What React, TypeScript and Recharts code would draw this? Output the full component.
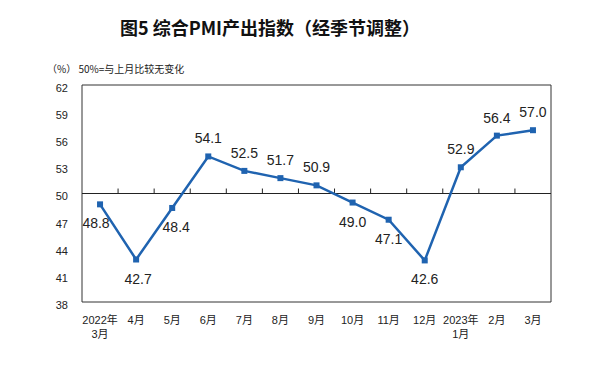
import React from "react";
import {
  LineChart,
  Line,
  XAxis,
  YAxis,
  ReferenceLine,
  ReferenceArea,
  LabelList,
} from "recharts";

const months = [
  ["2022年", "3月"],
  ["4月"],
  ["5月"],
  ["6月"],
  ["7月"],
  ["8月"],
  ["9月"],
  ["10月"],
  ["11月"],
  ["12月"],
  ["2023年", "1月"],
  ["2月"],
  ["3月"],
];
const pmiOutput = [48.8, 42.7, 48.4, 54.1, 52.5, 51.7, 50.9, 49.0, 47.1, 42.6, 52.9, 56.4, 57.0];
const yTicks = [38, 41, 44, 47, 50, 53, 56, 59, 62];
// where each value label sits relative to its point
const labelSide = ["below", "below", "below", "above", "above", "above", "above", "below", "below", "below", "above", "above", "above"];
const labelShift = [-4, 2, 4, 0, 0, 0, 0, 0, 0, 0, 0, 0, 0];

const data = pmiOutput.map((v, i) => ({ i, v }));
const boundaries = months.slice(1).map((_, i) => i + 0.5);

const BLUE = "#1f63b0";
const FONT = "'Liberation Sans', 'Noto Sans CJK SC', sans-serif";

const MonthTick = (props: any) => {
  const { x, y, payload } = props;
  const lines = months[payload.value] || [];
  return (
    <text x={x} y={y} textAnchor="middle" fontSize={11} fill="#222" fontFamily={FONT}>
      {lines.map((l, k) => (
        <tspan key={k} x={x} dy={14}>
          {l}
        </tspan>
      ))}
    </text>
  );
};

const SquareDot = (props: any) => {
  const { cx, cy } = props;
  if (cx == null || cy == null) return null;
  return <rect x={cx - 3} y={cy - 3} width={6} height={6} fill={BLUE} />;
};

const ValueLabel = (props: any) => {
  const { x, y, value, index } = props;
  const below = labelSide[index] === "below";
  return (
    <text
      x={x + labelShift[index]}
      y={below ? y + 24 : y - 13}
      textAnchor="middle"
      fontSize={14}
      fill="#222"
      fontFamily={FONT}
    >
      {Number(value).toFixed(1)}
    </text>
  );
};

export default function App() {
  return (
    <div
      style={{
        position: "absolute",
        left: 0,
        top: 0,
        width: 610,
        height: 371,
        background: "#fff",
        fontFamily: FONT,
      }}
    >
      <div
        style={{
          position: "absolute",
          left: 120,
          top: 14,
          fontSize: 18,
          fontWeight: 700,
          color: "#111",
          fontFamily: "'Noto Sans CJK SC', sans-serif",
          whiteSpace: "nowrap",
        }}
      >
        图5 综合PMI产出指数（经季节调整）
      </div>
      <div
        style={{
          position: "absolute",
          left: 47,
          top: 61,
          fontSize: 10,
          color: "#222",
          fontFamily: "'Noto Sans CJK SC', sans-serif",
          whiteSpace: "nowrap",
        }}
      >
        （%） 50%=与上月比较无变化
      </div>
      <div style={{ position: "absolute", left: 0, top: 0 }}>
        <LineChart
          width={610}
          height={371}
          data={data}
          margin={{ top: 85, right: 59, bottom: 29, left: 52 }}
        >
          <XAxis
            dataKey="i"
            type="number"
            domain={[-0.5, 12.5]}
            ticks={data.map((d) => d.i)}
            interval={0}
            axisLine={false}
            tickLine={false}
            tick={<MonthTick />}
            height={40}
          />
          <YAxis
            domain={[38, 62]}
            ticks={yTicks}
            interval={0}
            axisLine={false}
            tickLine={false}
            tickSize={0}
            tickMargin={14}
            width={30}
            tick={{ fontSize: 11, fill: "#222", fontFamily: FONT, dy: 3 }}
          />
          <ReferenceArea x1={-0.5} x2={12.5} y1={38} y2={62} fill="none" stroke="#333" strokeWidth={1} />
          <ReferenceLine y={50} stroke="#222" strokeWidth={1} />
          {boundaries.map((b) => (
            <ReferenceLine
              key={b}
              segment={[
                { x: b, y: 50 },
                { x: b, y: 50.55 },
              ]}
              stroke="#222"
              strokeWidth={1}
            />
          ))}
          <Line
            type="linear"
            dataKey="v"
            stroke={BLUE}
            strokeWidth={2.5}
            dot={<SquareDot />}
            activeDot={false}
            isAnimationActive={false}
          >
            <LabelList dataKey="v" content={<ValueLabel />} />
          </Line>
        </LineChart>
      </div>
    </div>
  );
}
